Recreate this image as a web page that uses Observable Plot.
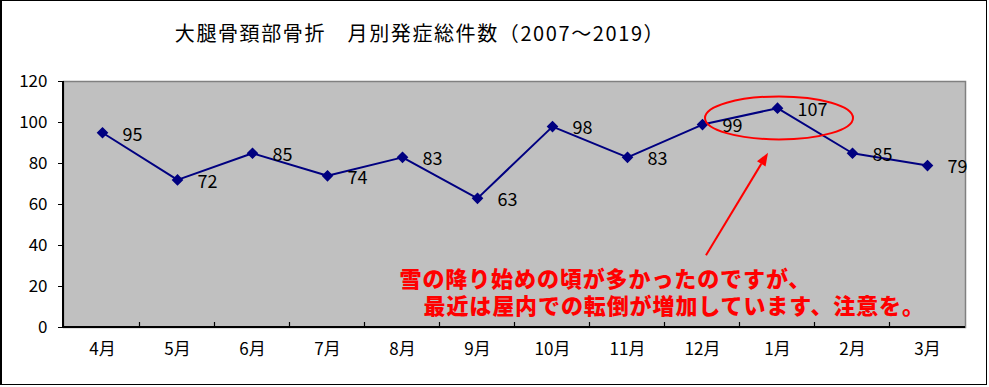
<!DOCTYPE html>
<html><head><meta charset="utf-8">
<script src="https://cdn.jsdelivr.net/npm/d3@7"></script>
<script src="https://cdn.jsdelivr.net/npm/@observablehq/plot@0.6"></script>
<style>
body{margin:0;background:#fff;}
#wrap{position:relative;width:989px;height:387px;overflow:hidden;font-family:"Noto Sans CJK JP",sans-serif;}
#title{position:absolute;left:120px;width:600px;top:20px;text-align:center;font-size:20px;line-height:26px;letter-spacing:1.6px;color:#000;}
#border{position:absolute;left:0;top:0;width:984px;height:383px;border:1px solid #000;border-left-width:2px;pointer-events:none;}
#chart{position:absolute;left:0;top:0;}
#chart text.note{letter-spacing:0.9px;}
</style></head>
<body>
<div id="wrap"><div id="chart"></div><div id="title"></div><div id="border"></div></div>
<script>
const titleText = "大腿骨頚部骨折　月別発症総件数（2007～2019）";
const months = ["4月","5月","6月","7月","8月","9月","10月","11月","12月","1月","2月","3月"];
const counts = [95,72,85,74,83,63,98,83,99,107,85,79];
const noteLines = ["雪の降り始めの頃が多かったのですが、","最近は屋内での転倒が増加しています、注意を。"];
const highlightMonth = "1月";
const highlightValue = 102;
const arrowFrom = {month:"12月", value:35};
const arrowTo = {month:"1月", value:85};
const noteAnchorMonth = "8月";
const noteValue = 17.5;

document.getElementById("title").textContent = titleText;
const data = months.map((m,i)=>({month:m, value:counts[i]}));
const navy = "#000080", red = "#ff0000";

function decor(index, scales, values, dim){
  const x = scales.x, y = scales.y;
  const g = d3.create("svg:g");
  const left = dim.marginLeft, bottom = dim.height - dim.marginBottom, top = dim.marginTop, right = dim.width - dim.marginRight;
  for(let i=1;i<months.length;i++){
    const bx = (x(months[i-1]) + x(months[i]))/2;
    g.append("line").attr("x1",bx).attr("x2",bx).attr("y1",bottom).attr("y2",bottom-5).attr("stroke","#000").attr("stroke-width",1.2);
  }
  g.append("line").attr("x1",left).attr("x2",left).attr("y1",top).attr("y2",bottom+1).attr("stroke","#000").attr("stroke-width",2);
  g.append("line").attr("x1",left).attr("x2",right).attr("y1",bottom).attr("y2",bottom).attr("stroke","#000").attr("stroke-width",2);
  return g.node();
}
function annot(index, scales){
  const x = scales.x, y = scales.y;
  const g = d3.create("svg:g");
  g.append("ellipse").attr("cx",x(highlightMonth)+2).attr("cy",y(highlightValue)).attr("rx",74).attr("ry",21.5)
    .attr("fill","none").attr("stroke",red).attr("stroke-width",2);
  const x1 = x(arrowFrom.month)+4, y1 = y(arrowFrom.value);
  const x2 = x(arrowTo.month)-9, y2 = y(arrowTo.value);
  const ang = Math.atan2(y2-y1, x2-x1), L = 13, W = 5;
  const bx = x2 - L*Math.cos(ang), by = y2 - L*Math.sin(ang);
  g.append("line").attr("x1",x1).attr("y1",y1).attr("x2",bx).attr("y2",by).attr("stroke",red).attr("stroke-width",2);
  const px = -Math.sin(ang)*W, py = Math.cos(ang)*W;
  g.append("path").attr("d",`M${x2},${y2}L${bx+px},${by+py}L${bx-px},${by-py}Z`).attr("fill",red);
  return g.node();
}

const plot = Plot.plot({
  width: 989, height: 387,
  marginLeft: 63, marginRight: 24, marginTop: 81, marginBottom: 60,
  style: {fontFamily: "'Noto Sans CJK JP', sans-serif", fontSize: "17px", background: "transparent", color: "#000"},
  x: {type: "point", domain: months, padding: 0.5, tickSize: 0, tickPadding: 15, label: null},
  y: {domain: [0,120], ticks: 6, tickSize: 5, tickPadding: 11, label: null},
  marks: [
    Plot.frame({fill: "#c0c0c0", stroke: "#808080", strokeWidth: 1.5}),
    decor,
    Plot.line(data, {x: "month", y: "value", stroke: navy, strokeWidth: 2}),
    Plot.dot(data, {x: "month", y: "value", symbol: "diamond2", r: 4.3, fill: navy, stroke: navy}),
    Plot.text(data, {x: "month", y: "value", text: d => String(d.value), dx: 20, dy: 2, textAnchor: "start", fontSize: 18, fill: "#000"}),
    annot,
    Plot.text([noteLines.join("\n")], {x: () => noteAnchorMonth, y: () => noteValue, text: d => d, textAnchor: "start", lineAnchor: "middle", lineHeight: 1.23, dx: -3, fontSize: 22, fontWeight: 900, fill: red})
  ]
});
d3.select(plot).selectAll("text").filter(function(){ return this.textContent.startsWith(noteLines[0]); })
  .classed("note", true)
  .each(function(){ d3.select(this).selectAll("tspan").filter((d,i)=>i===1).attr("x", 24); });
document.getElementById("chart").appendChild(plot);
</script>
</body></html>
